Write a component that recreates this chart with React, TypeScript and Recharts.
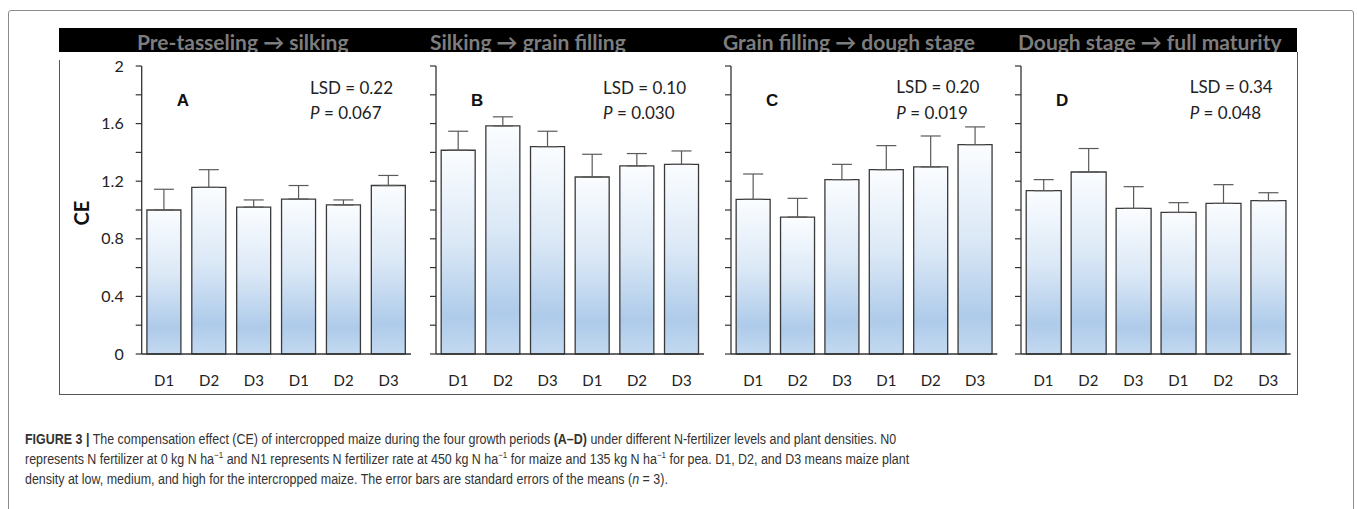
import { Bar, BarChart, ErrorBar, XAxis, YAxis } from "recharts";

// six treatments per period: N0 then N1, each with D1..D3
const categories = ["D1", "D2", "D3", "D1", "D2", "D3"];
const nLevels = ["N0", "N0", "N0", "N1", "N1", "N1"];

const ceA = [1.0, 1.157, 1.02, 1.076, 1.035, 1.17];
const seA = [0.144, 0.123, 0.05, 0.094, 0.035, 0.07];
const ceB = [1.415, 1.584, 1.44, 1.229, 1.306, 1.317];
const seB = [0.132, 0.063, 0.107, 0.158, 0.086, 0.093];
const ceC = [1.074, 0.951, 1.211, 1.28, 1.299, 1.454];
const seC = [0.176, 0.13, 0.106, 0.167, 0.215, 0.123];
const ceD = [1.134, 1.264, 1.011, 0.983, 1.046, 1.065];
const seD = [0.077, 0.163, 0.151, 0.068, 0.13, 0.055];

const yTicks = [0, 0.2, 0.4, 0.6, 0.8, 1, 1.2, 1.4, 1.6, 1.8, 2];
const periods = [
  "Pre-tasseling → silking",
  "Silking → grain filling",
  "Grain filling → dough stage",
  "Dough stage → full maturity",
];
const letters = ["A", "B", "C", "D"];
const lsd = ["0.22", "0.10", "0.20", "0.34"];
const pValues = ["0.067", "0.030", "0.019", "0.048"];

const ceSeries = [ceA, ceB, ceC, ceD];
const seSeries = [seA, seB, seC, seD];

// layout (page px)
const plotLeft = [141.7, 435.5, 730.5, 1021.3];
const plotWidth = [269.3, 268, 266.3, 269.7];
const chartTop = 52;
const xAxisHeight = 40;
const chartHeight = 302 + xAxisHeight; // plot bottom lands on y = 354

const font = "Lato, 'Open Sans', sans-serif";

const buildRows = (ce: number[], se: number[]) =>
  categories.map((c, i) => ({
    key: `${nLevels[i]}-${c}`,
    label: c,
    ce: ce[i],
    err: [0, se[i]],
  }));

const tickLabel = (v: number) =>
  Math.round(v * 10) % 4 === 0 ? (v === 0 ? "0" : v === 2 ? "2" : v.toFixed(1)) : "";

function Panel({ idx }: { idx: number }) {
  const rows = buildRows(ceSeries[idx], seSeries[idx]);
  const yw = idx === 0 ? 82.7 : 40;
  const w = yw + plotWidth[idx] + 1;
  const gid = `barGrad${idx}`;
  const right = yw + plotWidth[idx];
  return (
    <div style={{ position: "absolute", left: plotLeft[idx] - yw, top: chartTop }}>
      <BarChart
        width={w}
        height={chartHeight}
        data={rows}
        margin={{ top: 14, right: 1, left: 0, bottom: 0 }}
        barCategoryGap="11.6%"
      >
        <defs>
          <linearGradient id={gid} x1="0" y1="0" x2="0" y2="1">
            <stop offset="0%" stopColor="#fbfdff" />
            <stop offset="45%" stopColor="#dbe8f6" />
            <stop offset="82%" stopColor="#aecbea" />
            <stop offset="100%" stopColor="#c3d9f0" />
          </linearGradient>
        </defs>
        <XAxis
          dataKey="key"
          tickFormatter={(_v: string, i: number) => categories[i]}
          tickLine={false}
          tickSize={0}
          tickMargin={21}
          height={xAxisHeight}
          axisLine={{ stroke: "#333", strokeWidth: 1.3 }}
          tick={{ fill: "#222", fontSize: 15, fontFamily: font }}
          interval={0}
        />
        <XAxis
          xAxisId="top"
          orientation="top"
          dataKey="key"
          height={0}
          tick={false}
          tickLine={false}
          axisLine={{ stroke: "#333", strokeWidth: 1.3 }}
        />
        <YAxis
          domain={[0, 2]}
          ticks={yTicks}
          interval={0}
          width={yw}
          tickSize={6}
          tickMargin={12}
          tickFormatter={idx === 0 ? tickLabel : () => ""}
          tickLine={{ stroke: "#333", strokeWidth: 1.2 }}
          axisLine={{ stroke: "#333", strokeWidth: 1.3 }}
          tick={{ fill: "#222", fontSize: 16, fontFamily: font }}
        />
        <YAxis
          yAxisId="r"
          orientation="right"
          domain={[0, 2]}
          width={0}
          tick={false}
          tickLine={false}
          axisLine={{ stroke: "#333", strokeWidth: 1.3 }}
        />
        <Bar
          dataKey="ce"
          fill={`url(#${gid})`}
          stroke="#3a3a3a"
          strokeWidth={1.3}
          isAnimationActive={false}
        >
          <ErrorBar
            dataKey="err"
            direction="y"
            width={10}
            stroke="#5a5a5a"
            strokeWidth={1.2}
            isAnimationActive={false}
          />
        </Bar>
        <text
          x={yw + 35}
          y={54}
          fontFamily="'Liberation Sans', Arial, sans-serif"
          fontWeight="bold"
          fontSize={17}
          fill="#111"
        >
          {letters[idx]}
        </text>
        <text x={right - 101} y={41.5} fontFamily={font} fontSize={17} fill="#222">
          {`LSD = ${lsd[idx]}`}
        </text>
        <text x={right - 101} y={66.8} fontFamily={font} fontSize={17} fill="#222">
          <tspan fontStyle="italic">P</tspan>
          {` = ${pValues[idx]}`}
        </text>
        {idx === 0 && (
          <text
            x={21.5}
            y={161}
            transform="rotate(-90 21.5 161)"
            textAnchor="middle"
            dominantBaseline="central"
            fontFamily={font}
            fontWeight="bold"
            fontSize={20}
            fill="#111"
          >
            CE
          </text>
        )}
      </BarChart>
    </div>
  );
}

const sup = (s: string) => (
  <span style={{ fontSize: 9, verticalAlign: "super", lineHeight: 0 }}>{s}</span>
);

export default function App() {
  const titleX = [137, 430, 723, 1018];
  return (
    <div
      style={{
        position: "absolute",
        left: 0,
        top: 0,
        width: 1357,
        height: 509,
        overflow: "hidden",
        background: "#fff",
      }}
    >
      <div
        style={{
          position: "absolute",
          left: 8,
          top: 10,
          width: 1344,
          height: 540,
          border: "1.5px solid #8c8c8c",
          borderRadius: 3,
        }}
      />
      <div
        style={{
          position: "absolute",
          left: 59,
          top: 52,
          width: 1237,
          height: 342,
          borderLeft: "1px solid #555",
          borderRight: "1px solid #555",
          borderBottom: "1px solid #555",
        }}
      />
      <svg
        width={1357}
        height={60}
        style={{ position: "absolute", left: 0, top: 0 }}
      >
        <rect x={59} y={28} width={1238} height={24} fill="#000" />
        {periods.map((p, i) => (
          <text
            key={p}
            x={titleX[i]}
            y={50}
            fontFamily={font}
            fontWeight="bold"
            fontSize={21}
            fill="#7d7d7d"
          >
            {p}
          </text>
        ))}
        <rect x={59} y={52} width={1238} height={8} fill="#fff" />
      </svg>
      {[0, 1, 2, 3].map((i) => (
        <Panel key={i} idx={i} />
      ))}
      <div
        style={{
          position: "absolute",
          left: 25,
          top: 429,
          fontFamily: "'Liberation Sans', Arial, sans-serif",
          fontSize: 14,
          lineHeight: "20px",
          color: "#333",
          whiteSpace: "nowrap",
          transform: "scaleX(0.89)",
          transformOrigin: "0 0",
        }}
      >
        <b>FIGURE 3 |</b> The compensation effect (CE) of intercropped maize during the
        four growth periods <b>(A–D)</b> under different N-fertilizer levels and plant
        densities. N0
        <br />
        represents N fertilizer at 0 kg N ha{sup("−1")} and N1 represents N fertilizer rate
        at 450 kg N ha{sup("−1")} for maize and 135 kg N ha{sup("−1")} for pea. D1, D2, and D3
        means maize plant
        <br />
        density at low, medium, and high for the intercropped maize. The error bars are
        standard errors of the means (<i>n</i> = 3).
      </div>
    </div>
  );
}
